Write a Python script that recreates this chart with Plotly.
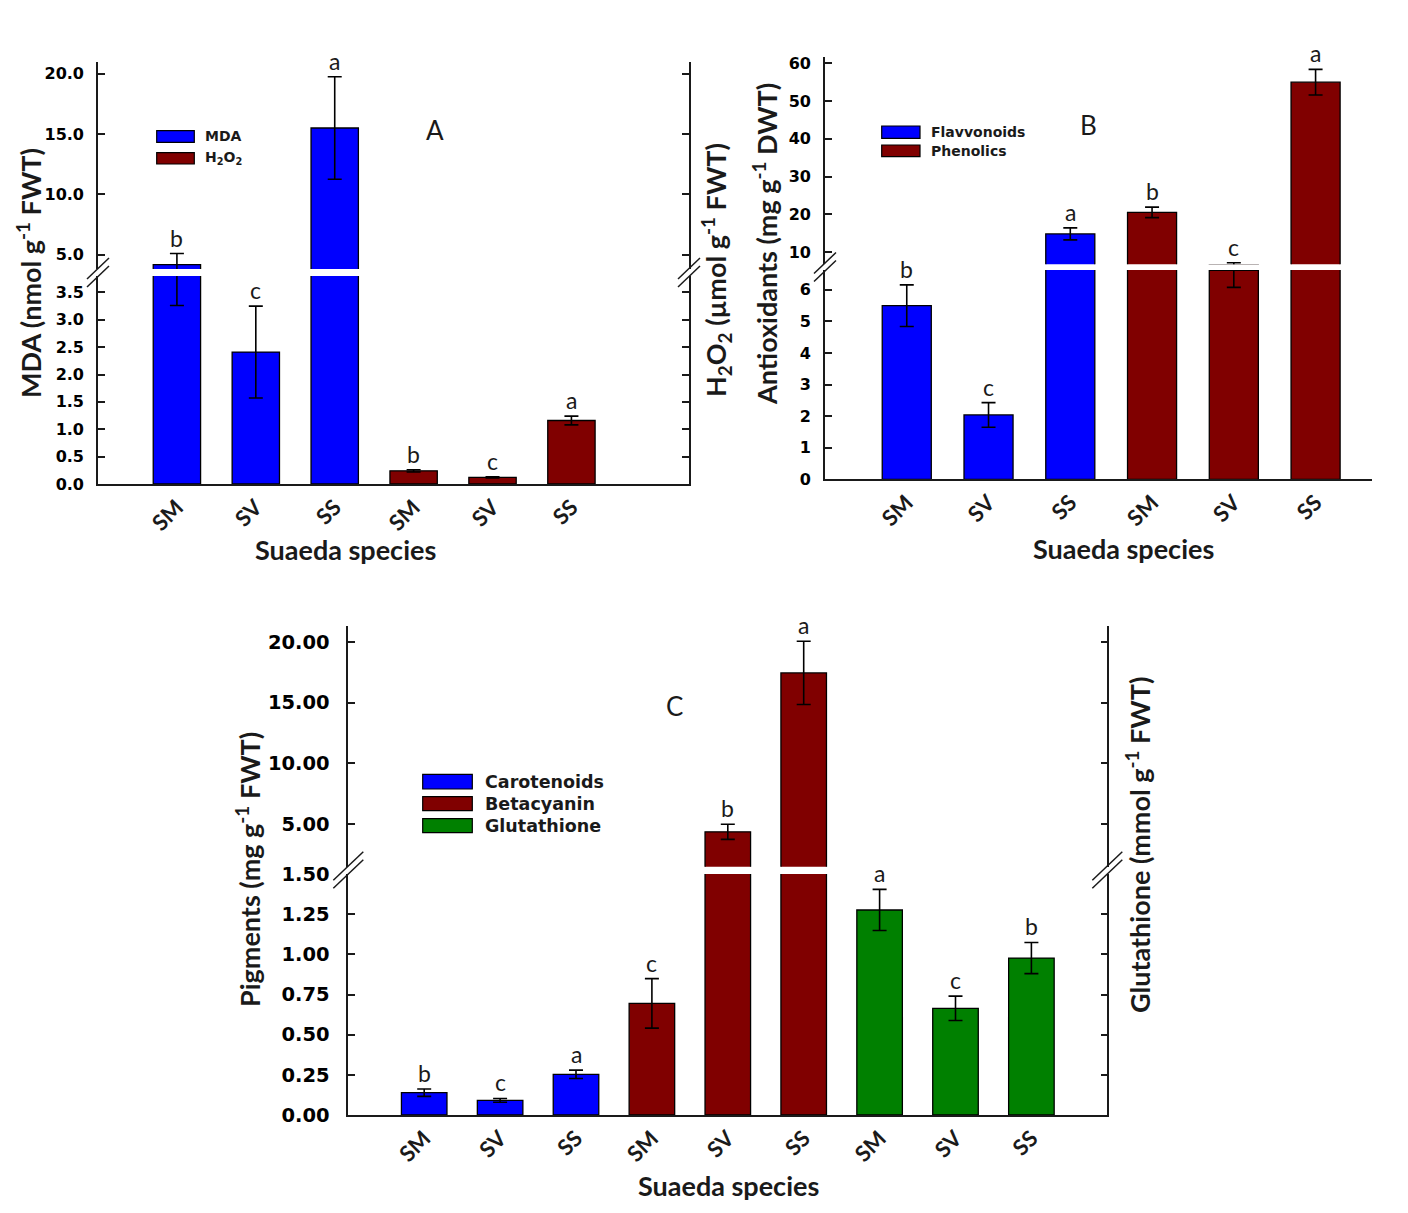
import plotly.graph_objects as go

W, H = 1408, 1213

species = ["SM", "SV", "SS"]

# ---------------- Panel A ----------------
mda = [4.17, 2.41, 15.5]
mda_err = [0.91, 0.84, 4.25]
mda_sig = ["b", "c", "a"]
h2o2 = [0.24, 0.12, 1.16]
h2o2_err = [0.02, 0.01, 0.08]
h2o2_sig = ["b", "c", "a"]

# ---------------- Panel B ----------------
flav = [5.50, 2.04, 14.8]
flav_err = [0.66, 0.39, 1.6]
flav_sig = ["b", "c", "a"]
phen = [20.5, 6.62, 55.0]
phen_err = [1.4, 0.54, 3.4]
phen_sig = ["b", "c", "a"]

# ---------------- Panel C ----------------
carot = [0.139, 0.091, 0.253]
carot_err = [0.023, 0.012, 0.026]
carot_sig = ["b", "c", "a"]
betac = [0.695, 4.37, 17.44]
betac_err = [0.154, 0.62, 2.6]
betac_sig = ["c", "b", "a"]
gluta = [1.276, 0.664, 0.977]
gluta_err = [0.128, 0.076, 0.097]
gluta_sig = ["a", "c", "b"]

A_low_ticks = [0, 0.5, 1, 1.5, 2, 2.5, 3, 3.5]
A_up_ticks = [5, 10, 15, 20]
B_low_ticks = [0, 1, 2, 3, 4, 5, 6]
B_up_ticks = [10, 20, 30, 40, 50, 60]
C_low_ticks = [0, 0.25, 0.5, 0.75, 1.0, 1.25, 1.5]
C_up_ticks = [5, 10, 15, 20]

BLUE, RED, GREEN = "#0000FF", "#800000", "#008000"
TICKFONT = "DejaVu Sans"
TXT = "Lato"
INK = "#1a1a1a"


def fx(px):
    return px / W


def fy(py):
    return 1 - py / H


panels = [
    dict(series=[("MDA", mda, mda_err, mda_sig, BLUE), ("H<sub>2</sub>O<sub>2</sub>", h2o2, h2o2_err, h2o2_sig, RED)],
         x=(98, 689), low=(484, 276), up=(269, 61.7), xr=(-1.0, 6.49),
         lo_range=(0, 3.8), up_range=(3.8, 21.0),
         lo_ticks=A_low_ticks, up_ticks=A_up_ticks, fmt="{:.1f}", tickfs=16, standoff=9,
         mirror=True, xfs=22,
         ltitle=("MDA (nmol g<sup>-1</sup> FWT)", 29, 273),
         rtitle=("H<sub>2</sub>O<sub>2</sub> (µmol g<sup>-1</sup> FWT)", 716, 270),
         xtitle=(345, 550), letter=("A", 435, 130),
         legend=dict(x0=156.7, x1=194.3, rows=[(130.7, 142.3), (152.7, 164.0)], tx=203, fs=14),
         brk=[(98, 272.5, 11), (689, 272.5, 11)]),
    dict(series=[("Flavvonoids", flav, flav_err, flav_sig, BLUE), ("Phenolics", phen, phen_err, phen_sig, RED)],
         x=(825, 1372), low=(479.3, 270), up=(264.3, 56.7), xr=(-1.0, 5.69),
         lo_range=(0, 6.63), up_range=(6.74, 61.75),
         lo_ticks=B_low_ticks, up_ticks=B_up_ticks, fmt="{:.0f}", tickfs=16, standoff=9,
         mirror=False, xfs=22,
         ltitle=("Antioxidants (mg g<sup>-1</sup> DWT)", 765, 244),
         rtitle=None,
         xtitle=(1123, 548), letter=("B", 1088, 125),
         legend=dict(x0=881.7, x1=920, rows=[(126, 138.3), (145, 156.7)], tx=929, fs=14),
         brk=[(825, 267, 11)]),
    dict(series=[("Carotenoids", carot, carot_err, carot_sig, BLUE), ("Betacyanin", betac, betac_err, betac_sig, RED),
                 ("Glutathione", gluta, gluta_err, gluta_sig, GREEN)],
         x=(348.3, 1107.3), low=(1115, 874), up=(866.7, 626), xr=(-1.0, 9.0),
         lo_range=(0, 1.5), up_range=(1.5, 21.3),
         lo_ticks=C_low_ticks, up_ticks=C_up_ticks, fmt="{:.2f}", tickfs=19.5, standoff=13,
         mirror=True, xfs=22,
         ltitle=("Pigments (mg g<sup>-1</sup> FWT)", 248, 870),
         rtitle=("Glutathione (mmol g<sup>-1</sup> FWT)", 1138, 845),
         xtitle=(728, 1185), letter=("C", 674, 706),
         legend=dict(x0=422.7, x1=472.3, rows=[(774.3, 789), (796.7, 810.7), (818.7, 832.7)], tx=483, fs=17.5),
         brk=[(348.3, 870, 15), (1107.3, 870, 15)]),
]

fig = go.Figure()
annotations = []
shapes = []
layout = {}

ax = 1
for p in panels:
    lo, hi = ax, ax + 1
    ax += 2
    xs_lo = "x" if lo == 1 else f"x{lo}"
    ys_lo = "y" if lo == 1 else f"y{lo}"
    xs_hi, ys_hi = f"x{hi}", f"y{hi}"
    k_lo = "" if lo == 1 else str(lo)
    k_hi = str(hi)

    cats = []
    pos = []
    for si, (name, vals, errs, sigs, col) in enumerate(p["series"]):
        xpos = [si * 3 + i for i in range(len(vals))]
        pos += xpos
        cats += species
        for xa, ya in ((xs_lo, ys_lo), (xs_hi, ys_hi)):
            fig.add_trace(go.Bar(
                x=xpos, y=vals, width=0.6, name=name, showlegend=False,
                marker=dict(color=col, line=dict(color="black", width=1.3)),
                error_y=dict(type="data", array=errs, visible=True, color="black", thickness=1.6, width=7),
                xaxis=xa, yaxis=ya))
        for xv, v, e, s in zip(xpos, vals, errs, sigs):
            top = v + e
            yref = ys_lo if top <= p["lo_range"][1] else ys_hi
            annotations.append(dict(x=xv, y=top, xref=xs_lo, yref=yref, text=s, showarrow=False,
                                    yanchor="bottom", yshift=0,
                                    font=dict(family=TXT, size=23, color=INK)))

    xdom = [fx(p["x"][0]), fx(p["x"][1])]
    layout["xaxis" + k_lo] = dict(domain=xdom, range=list(p["xr"]), showline=True, linecolor=INK,
                                  linewidth=1.6, ticks="", tickvals=pos, ticktext=cats, tickangle=-45,
                                  tickfont=dict(family=TXT, size=p["xfs"], color=INK, weight="bold"),
                                  showgrid=False, zeroline=False, anchor=ys_lo, automargin=False)
    layout["xaxis" + k_hi] = dict(domain=xdom, range=list(p["xr"]), visible=False, matches=xs_lo,
                                  anchor=ys_hi, showgrid=False, zeroline=False, automargin=False)
    common = dict(showline=True, linecolor=INK, linewidth=1.6, ticks="inside", ticklen=7,
                  tickwidth=1.5, tickcolor=INK, showgrid=False, zeroline=False, automargin=False,
                  ticklabelstandoff=p["standoff"],
                  mirror="ticks" if p["mirror"] else False,
                  tickfont=dict(family=TICKFONT, size=p["tickfs"], color="black", weight="bold"))
    layout["yaxis" + k_lo] = dict(domain=[fy(p["low"][0]), fy(p["low"][1])], range=list(p["lo_range"]),
                                  tickvals=p["lo_ticks"], ticktext=[p["fmt"].format(t) for t in p["lo_ticks"]],
                                  anchor=xs_lo, **common)
    layout["yaxis" + k_hi] = dict(domain=[fy(p["up"][0]), fy(p["up"][1])], range=list(p["up_range"]),
                                  tickvals=p["up_ticks"], ticktext=[p["fmt"].format(t) for t in p["up_ticks"]],
                                  anchor=xs_hi, **common)

    # axis titles
    t, tx, ty = p["ltitle"]
    annotations.append(dict(x=fx(tx), y=fy(ty), xref="paper", yref="paper", text=t, textangle=-90,
                            showarrow=False, xanchor="center", yanchor="middle",
                            font=dict(family=TXT, size=27, color=INK, weight="bold")))
    if p["rtitle"]:
        t, tx, ty = p["rtitle"]
        annotations.append(dict(x=fx(tx), y=fy(ty), xref="paper", yref="paper", text=t, textangle=-90,
                                showarrow=False, xanchor="center", yanchor="middle",
                                font=dict(family=TXT, size=27, color=INK, weight="bold")))
    tx, ty = p["xtitle"]
    annotations.append(dict(x=fx(tx), y=fy(ty), xref="paper", yref="paper", text="Suaeda species",
                            showarrow=False, xanchor="center", yanchor="middle",
                            font=dict(family=TXT, size=27, color=INK, weight="bold")))
    t, tx, ty = p["letter"]
    annotations.append(dict(x=fx(tx), y=fy(ty), xref="paper", yref="paper", text=t,
                            showarrow=False, xanchor="center", yanchor="middle",
                            font=dict(family=TXT, size=26, color=INK)))

    # legend
    lg = p["legend"]
    for (name, vals, errs, sigs, col), (y0, y1) in zip(p["series"], lg["rows"]):
        shapes.append(dict(type="rect", xref="paper", yref="paper", x0=fx(lg["x0"]), x1=fx(lg["x1"]),
                           y0=fy(y1), y1=fy(y0), fillcolor=col, line=dict(color="black", width=1.2)))
        annotations.append(dict(x=fx(lg["tx"]), y=fy((y0 + y1) / 2), xref="paper", yref="paper", text=name,
                                showarrow=False, xanchor="left", yanchor="middle",
                                font=dict(family=TICKFONT, size=lg["fs"], color=INK, weight="bold")))

    # break marks
    for cx, cy, half in p["brk"]:
        for dy in (-4, 4):
            shapes.append(dict(type="line", xref="paper", yref="paper",
                               x0=fx(cx - half), y0=fy(cy + dy + half * 0.95),
                               x1=fx(cx + half), y1=fy(cy + dy - half * 0.95),
                               line=dict(color=INK, width=1.5)))

fig.update_layout(**layout)
fig.update_layout(width=W, height=H, margin=dict(l=0, r=0, t=0, b=0, pad=0, autoexpand=False),
                  paper_bgcolor="white", plot_bgcolor="white", showlegend=False,
                  annotations=annotations, shapes=shapes, bargap=0.4)
fig.write_html("out.html")
